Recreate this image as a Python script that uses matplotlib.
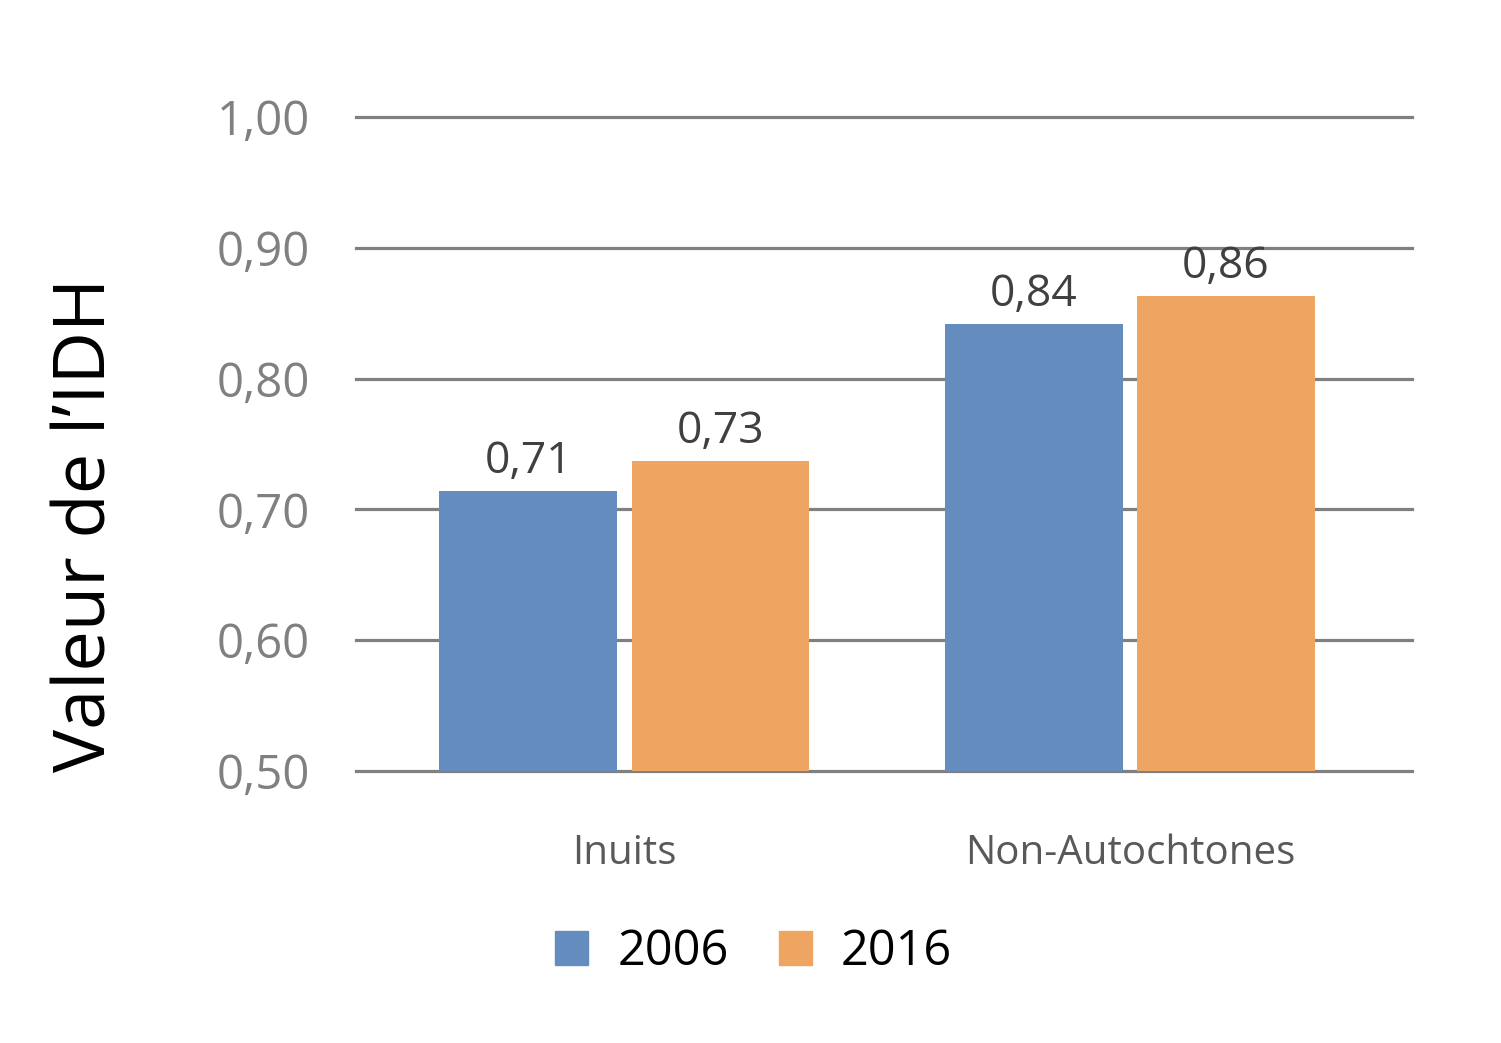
import matplotlib.pyplot as plt
from matplotlib.patches import Patch
import numpy as np

plt.rcParams["font.family"] = ["Open Sans", "DejaVu Sans"]

categories = ["Inuits", "Non-Autochtones"]
years = ["2006", "2016"]
idh_2006 = [0.714, 0.842]
idh_2016 = [0.737, 0.863]
labels_2006 = ["0,71", "0,84"]
labels_2016 = ["0,73", "0,86"]
yticks = [0.5, 0.6, 0.7, 0.8, 0.9, 1.0]
ytick_labels = ["0,50", "0,60", "0,70", "0,80", "0,90", "1,00"]

blue = "#658cbf"
orange = "#eda561"

fig = plt.figure(figsize=(15.01, 10.43), dpi=100)
ax = fig.add_axes([0.2372, 0.2608, 0.7035, 0.627])

x = np.arange(len(categories))
w = 0.352
off = 0.19

# grid lines (drawn behind bars)
for t in yticks:
    ax.axhline(t, color="#808080", lw=2.3, zorder=0, clip_on=False)

b1 = ax.bar(x - off, idh_2006, w, bottom=0, color=blue, zorder=2)
b2 = ax.bar(x + off, idh_2016, w, bottom=0, color=orange, zorder=2)

for bars, labs in [(b1, labels_2006), (b2, labels_2016)]:
    for r, lab in zip(bars, labs):
        ax.annotate(lab, (r.get_x() + r.get_width() / 2, r.get_height()),
                    xytext=(0, 13), textcoords="offset points",
                    ha="center", va="baseline", fontsize=32, color="#404040")

ax.set_ylim(0.5, 1.0)
ax.set_xlim(-0.531, 1.558)
ax.set_yticks(yticks)
ax.set_yticklabels(ytick_labels)
ax.set_xticks(x)
ax.set_xticklabels(categories)
ax.tick_params(axis="y", length=0, pad=33, labelsize=34, labelcolor="#808080")
ax.tick_params(axis="x", length=0, pad=45, labelsize=29, labelcolor="#595959")
for s in ax.spines.values():
    s.set_visible(False)

fig.text(0.0575, 1 - 525 / 1043, "Valeur de l\u2019IDH", rotation=90,
         fontsize=52, color="black", ha="center", va="center")

handles = [Patch(color=blue), Patch(color=orange)]
fig.legend(handles, years, loc="center", bbox_to_anchor=(0.502, 0.087),
           ncol=2, frameon=False, fontsize=35, handlelength=0.68,
           handleheight=0.68, handletextpad=0.6, columnspacing=1.03)

fig.savefig("out.png", dpi=100)
